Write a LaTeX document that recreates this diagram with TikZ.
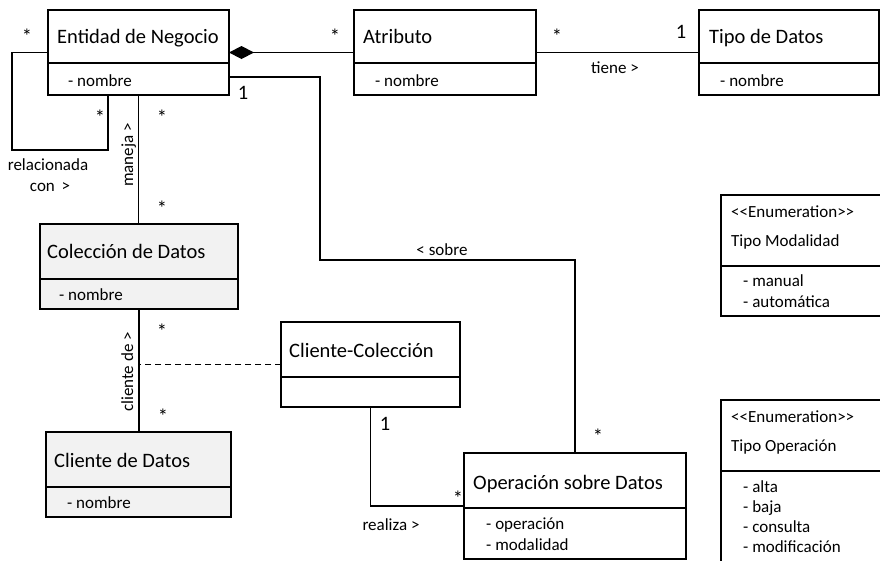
\documentclass[tikz,border=0pt]{standalone}
\usepackage{fontspec}
\setmainfont{Carlito}[Ligatures=TeXOff]
\usetikzlibrary{arrows.meta}
\definecolor{boxgrey}{HTML}{F2F2F2}
\begin{document}
\begin{tikzpicture}[x=1pt,y=-1pt,
  classbox/.style={draw=black, line width=1.2pt, inner sep=0pt, outer sep=0pt, fill=white},
  greybox/.style={classbox, fill=boxgrey},
  divider/.style={draw=black, line width=1.2pt},
  conn/.style={draw=black, line width=1.3pt},
  ttl/.style={anchor=base west, inner sep=0pt, font=\fontsize{20.5}{24}\selectfont},
  attr/.style={anchor=base west, inner sep=0pt, font=\fontsize{17}{20}\selectfont},
  mult/.style={anchor=base, inner sep=0pt, font=\fontsize{20.5}{24}\selectfont},
  lbl/.style={anchor=base, inner sep=0pt, font=\fontsize{17}{20}\selectfont},
]
\useasboundingbox (0,0) rectangle (880,560);
\clip (0,0) rectangle (880,560);

% ---------- classes ----------
\node[classbox, minimum width=181pt, minimum height=85pt] (ent) at (138.5,52.5) {};
\draw[divider] (ent.west |- 0,63) -- (ent.east |- 0,63);
\node[ttl] (entT) at (57,43) {Entidad de Negocio};
\node[attr] (entA) at (68,86) {- nombre};

\node[classbox, minimum width=182pt, minimum height=85pt] (atr) at (445,52.5) {};
\draw[divider] (atr.west |- 0,63) -- (atr.east |- 0,63);
\node[ttl] (atrT) at (363,43) {Atributo};
\node[attr] (atrA) at (375,86) {- nombre};

\node[classbox, minimum width=180pt, minimum height=85pt] (tdd) at (789,52.5) {};
\draw[divider] (tdd.west |- 0,63) -- (tdd.east |- 0,63);
\node[ttl] (tddT) at (709,43) {Tipo de Datos};
\node[attr] (tddA) at (720,86) {- nombre};

\node[greybox, minimum width=198pt, minimum height=85pt] (col) at (139,266.5) {};
\draw[divider] (col.west |- 0,279) -- (col.east |- 0,279);
\node[ttl] (colT) at (47,258) {Colección de Datos};
\node[attr] (colA) at (59,300) {- nombre};

\node[greybox, minimum width=185pt, minimum height=85pt] (cli) at (138.5,474.5) {};
\draw[divider] (cli.west |- 0,487) -- (cli.east |- 0,487);
\node[ttl] (cliT) at (54,467) {Cliente de Datos};
\node[attr] (cliA) at (67,508) {- nombre};

\node[classbox, minimum width=179pt, minimum height=85pt] (cc) at (370.5,364.5) {};
\draw[divider] (cc.west |- 0,377) -- (cc.east |- 0,377);
\node[ttl] (ccT) at (289,357) {Cliente-Colección};

\node[classbox, minimum width=222pt, minimum height=106pt] (op) at (575,506) {};
\draw[divider] (op.west |- 0,508) -- (op.east |- 0,508);
\node[ttl] (opT) at (473,489) {Operación sobre Datos};
\node[attr] (opA1) at (486,529) {- operación};
\node[attr] (opA2) at (486,550) {- modalidad};

% ---------- enumerations ----------
\node[classbox, minimum width=184pt, minimum height=121pt] (em) at (813,255.5) {};
\draw[divider] (em.west |- 0,266) -- (em.east |- 0,266);
\node[attr] (emS) at (731,217) {<{}<Enumeration>{}>};
\node[attr] (emT) at (731,246) {Tipo Modalidad};
\node[attr] (emA1) at (743,286) {- manual};
\node[attr] (emA2) at (743,307) {- automática};

\node[classbox, minimum width=184pt, minimum height=180pt] (eo) at (813,490) {};
\draw[divider] (eo.west |- 0,471) -- (eo.east |- 0,471);
\node[attr] (eoS) at (731,422) {<{}<Enumeration>{}>};
\node[attr] (eoT) at (731,451) {Tipo Operación};
\node[attr] (eoA1) at (743,492) {- alta};
\node[attr] (eoA2) at (743,512) {- baja};
\node[attr] (eoA3) at (743,532) {- consulta};
\node[attr] (eoA4) at (743,552) {- modificación};

% ---------- associations ----------
% composition Entidad <>-- Atributo
\draw[conn, {Diamond[length=25pt,width=13pt,fill=black]}-] (ent.east) -- (atr.west);
% Atributo -- Tipo de Datos
\draw[conn] (atr.east) -- (tdd.west);
% self association of Entidad
\coordinate (loopL) at (12,150);
\draw[conn] (ent.west) -| (loopL) -| ([xshift=60pt]ent.south west);
% Entidad -- Colección
\draw[conn] (ent.south) -- (ent.south |- col.north);
% Colección -- Cliente de Datos
\draw[conn] (col.south) -- (col.south |- cli.north);
% association class link
\draw[conn, line width=0.9pt, dash pattern=on 6pt off 4pt] (cc.west) -- (cc.west -| col.south);
% Cliente-Colección -- Operación
\draw[conn] (cc.south) |- (op.west);
% Entidad -- Operación
\coordinate (sobreL) at (320,260);
\draw[conn] ([yshift=18pt]ent.south east) -| (sobreL) -| (op.north);

% ---------- multiplicities and labels ----------
\node[mult] (m1) at (27,43) {*};
\node[mult] (m2) at (100,124) {*};
\node[mult] (m3) at (162,124) {*};
\node[mult] (m4) at (335,43) {*};
\node[mult] (m5) at (557,43) {*};
\node[mult] (m6) at (681,38) {1};
\node[mult] (m7) at (243,99) {1};
\node[mult] (m8) at (162,215) {*};
\node[mult] (m9) at (162,338) {*};
\node[mult] (m10) at (163,423) {*};
\node[mult] (m11) at (598,443) {*};
\node[mult] (m12) at (458,505) {*};
\node[mult] (m13) at (385,430) {1};

\node[lbl] (l1) at (615,73) {tiene >};
\node[lbl] (l2) at (442,255) {< sobre};
\node[lbl] (l3) at (391,530) {realiza >};
\node[lbl] (l4) at (48,170) {relacionada};
\node[lbl] (l5) at (50,191) {con \,>};
\node[lbl, rotate=90] (l6) at (133,155) {maneja >};
\node[lbl, rotate=90] (l7) at (133,372) {cliente de >};
\end{tikzpicture}
\end{document}
